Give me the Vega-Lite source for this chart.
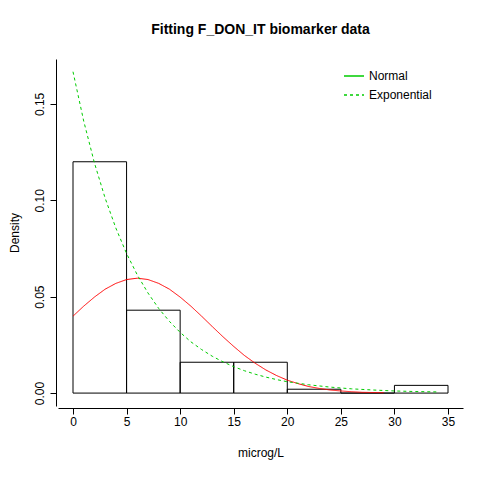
{
  "$schema": "https://vega.github.io/schema/vega-lite/v6.json",
  "width": 405,
  "height": 347,
  "autosize": "none",
  "padding": {"left": 58, "top": 59, "right": 17, "bottom": 74},
  "background": "white",
  "config": {"view": {"stroke": null}, "font": "Liberation Sans", "axis": {"grid": false, "domainColor": "black", "tickColor": "black", "labelColor": "black", "labelFontSize": 12, "titleFontSize": 12, "titleFontWeight": "normal", "tickSize": 6}},
  "title": {"text": "Fitting F_DON_IT biomarker data", "fontSize": 14, "fontWeight": "bold", "offset": 22, "anchor": "middle"},
  "datasets": {
    "hist": [
      {"a": 0, "b": 5, "d": 0.12},
      {"a": 5, "b": 10, "d": 0.043},
      {"a": 10, "b": 15, "d": 0.016},
      {"a": 15, "b": 20, "d": 0.016},
      {"a": 20, "b": 25, "d": 0.002},
      {"a": 25, "b": 30, "d": 0},
      {"a": 30, "b": 35, "d": 0.004}
    ],
    "curves": [
      {"s": "Normal", "x": 0, "y": 0.0399}, {"s": "Normal", "x": 1, "y": 0.0451}, {"s": "Normal", "x": 2, "y": 0.0498}, {"s": "Normal", "x": 3, "y": 0.0539}, {"s": "Normal", "x": 4, "y": 0.0569}, {"s": "Normal", "x": 5, "y": 0.0589}, {"s": "Normal", "x": 6, "y": 0.0596}, {"s": "Normal", "x": 7, "y": 0.0589}, {"s": "Normal", "x": 8, "y": 0.0569}, {"s": "Normal", "x": 9, "y": 0.0539}, {"s": "Normal", "x": 10, "y": 0.0498}, {"s": "Normal", "x": 11, "y": 0.0451}, {"s": "Normal", "x": 12, "y": 0.0399}, {"s": "Normal", "x": 13, "y": 0.0345}, {"s": "Normal", "x": 14, "y": 0.0292}, {"s": "Normal", "x": 15, "y": 0.0242}, {"s": "Normal", "x": 16, "y": 0.0195}, {"s": "Normal", "x": 17, "y": 0.0155}, {"s": "Normal", "x": 18, "y": 0.012}, {"s": "Normal", "x": 19, "y": 0.0091}, {"s": "Normal", "x": 20, "y": 0.0067}, {"s": "Normal", "x": 21, "y": 0.0049}, {"s": "Normal", "x": 22, "y": 0.0034}, {"s": "Normal", "x": 23, "y": 0.0024}, {"s": "Normal", "x": 24, "y": 0.0016}, {"s": "Normal", "x": 25, "y": 0.0011}, {"s": "Normal", "x": 26, "y": 0.0007}, {"s": "Normal", "x": 27, "y": 0.0004}, {"s": "Normal", "x": 28, "y": 0.0003}, {"s": "Normal", "x": 29, "y": 0.0002},
      {"s": "Exponential", "x": 0, "y": 0.1667}, {"s": "Exponential", "x": 1, "y": 0.1411}, {"s": "Exponential", "x": 2, "y": 0.1194}, {"s": "Exponential", "x": 3, "y": 0.1011}, {"s": "Exponential", "x": 4, "y": 0.0856}, {"s": "Exponential", "x": 5, "y": 0.0724}, {"s": "Exponential", "x": 6, "y": 0.0613}, {"s": "Exponential", "x": 7, "y": 0.0519}, {"s": "Exponential", "x": 8, "y": 0.0439}, {"s": "Exponential", "x": 9, "y": 0.0372}, {"s": "Exponential", "x": 10, "y": 0.0315}, {"s": "Exponential", "x": 11, "y": 0.0266}, {"s": "Exponential", "x": 12, "y": 0.0226}, {"s": "Exponential", "x": 13, "y": 0.0191}, {"s": "Exponential", "x": 14, "y": 0.0162}, {"s": "Exponential", "x": 15, "y": 0.0137}, {"s": "Exponential", "x": 16, "y": 0.0116}, {"s": "Exponential", "x": 17, "y": 0.0098}, {"s": "Exponential", "x": 18, "y": 0.0083}, {"s": "Exponential", "x": 19, "y": 0.007}, {"s": "Exponential", "x": 20, "y": 0.0059}, {"s": "Exponential", "x": 22, "y": 0.0043}, {"s": "Exponential", "x": 24, "y": 0.0031}, {"s": "Exponential", "x": 26, "y": 0.0022}, {"s": "Exponential", "x": 28, "y": 0.0016}, {"s": "Exponential", "x": 30, "y": 0.0011}, {"s": "Exponential", "x": 32, "y": 0.0008}, {"s": "Exponential", "x": 34, "y": 0.0006}
    ]
  },
  "layer": [
    {
      "data": {"name": "hist"},
      "mark": {"type": "rect", "fill": null, "stroke": "black", "strokeWidth": 1},
      "encoding": {
        "x": {"field": "a", "type": "quantitative", "scale": {"domain": [-1.4, 36.4], "nice": false, "zero": false}, "axis": {"values": [0, 5, 10, 15, 20, 25, 30, 35], "title": "microg/L", "titlePadding": 20, "offset": 2}},
        "x2": {"field": "b"},
        "y": {"field": "d", "type": "quantitative", "scale": {"domain": [-0.0067, 0.1733], "nice": false, "zero": false}, "axis": {"values": [0, 0.05, 0.1, 0.15], "format": ".2f", "labelAngle": -90, "labelAlign": "center", "labelBaseline": "bottom", "labelPadding": 4, "title": "Density", "titlePadding": 12, "offset": 2}},
        "y2": {"datum": 0}
      }
    },
    {
      "data": {"name": "curves"},
      "mark": {"type": "line", "strokeWidth": 1},
      "encoding": {
        "x": {"field": "x", "type": "quantitative"},
        "y": {"field": "y", "type": "quantitative"},
        "detail": {"field": "s"},
        "stroke": {"condition": {"test": "datum.s == 'Normal'", "value": "red"}, "value": "#00cc00"},
        "strokeDash": {
          "field": "s", "type": "nominal",
          "scale": {"domain": ["Normal", "Exponential"], "range": [[1, 0], [3, 3]]},
          "legend": {
            "title": null, "orient": "none", "legendX": 285, "legendY": 6,
            "labelFontSize": 12, "symbolType": "stroke", "symbolSize": 400, "labelColor": "black",
            "encode": {"symbols": {"update": {"stroke": {"signal": "datum.label == 'Normal' ? 'black' : '#00cc00'"}, "strokeWidth": {"value": 1}}}}
          }
        }
      }
    }
  ]
}
